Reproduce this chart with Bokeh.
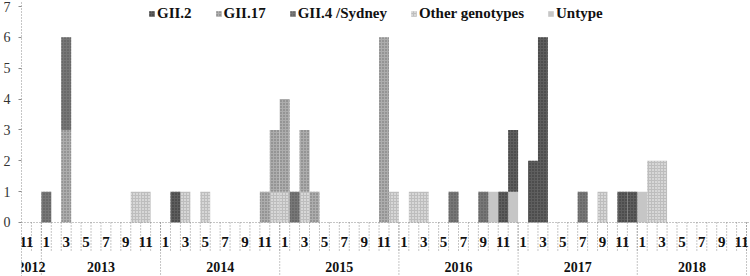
from bokeh.plotting import figure
from bokeh.models import Range1d, FixedTicker, Span, Legend, LegendItem, ColumnDataSource
from bokeh.core.properties import value
from bokeh.embed import file_html
from bokeh.resources import INLINE

# ---- data (slot 0 = Nov 2012 ... slot 72 = Nov 2018) ----
month_nums = [11, 12,
              1, 2, 3, 4, 5, 6, 7, 8, 9, 10, 11, 12,
              1, 2, 3, 4, 5, 6, 7, 8, 9, 10, 11, 12,
              1, 2, 3, 4, 5, 6, 7, 8, 9, 10, 11, 12,
              1, 2, 3, 4, 5, 6, 7, 8, 9, 10, 11, 12,
              1, 2, 3, 4, 5, 6, 7, 8, 9, 10, 11, 12,
              1, 2, 3, 4, 5, 6, 7, 8, 9, 10, 11]
year_labels = ["2012", "2013", "2014", "2015", "2016", "2017", "2018"]
year_counts = [2, 12, 12, 12, 12, 12, 11]

gii2 = [0, 0,
        0, 0, 0, 0, 0, 0, 0, 0, 0, 0, 0, 0,
        0, 1, 0, 0, 0, 0, 0, 0, 0, 0, 0, 0,
        0, 0, 0, 0, 0, 0, 0, 0, 0, 0, 0, 0,
        0, 0, 0, 0, 0, 0, 0, 0, 0, 0, 1, 2,
        0, 2, 6, 0, 0, 0, 0, 0, 0, 0, 1, 1,
        0, 0, 0, 0, 0, 0, 0, 0, 0, 0, 0]
gii17 = [0, 0,
         0, 0, 3, 0, 0, 0, 0, 0, 0, 0, 0, 0,
         0, 0, 0, 0, 0, 0, 0, 0, 0, 0, 1, 2,
         3, 0, 2, 1, 0, 0, 0, 0, 0, 0, 6, 0,
         0, 0, 0, 0, 0, 0, 0, 0, 0, 0, 0, 0,
         0, 0, 0, 0, 0, 0, 0, 0, 0, 0, 0, 0,
         0, 0, 0, 0, 0, 0, 0, 0, 0, 0, 0]
gii4 = [0, 0,
        1, 0, 3, 0, 0, 0, 0, 0, 0, 0, 0, 0,
        0, 0, 0, 0, 0, 0, 0, 0, 0, 0, 0, 0,
        0, 1, 0, 0, 0, 0, 0, 0, 0, 0, 0, 0,
        0, 0, 0, 0, 0, 1, 0, 0, 1, 0, 0, 0,
        0, 0, 0, 0, 0, 0, 1, 0, 0, 0, 0, 0,
        0, 0, 0, 0, 0, 0, 0, 0, 0, 0, 0]
other = [0, 0,
         0, 0, 0, 0, 0, 0, 0, 0, 0, 1, 1, 0,
         0, 0, 1, 0, 1, 0, 0, 0, 0, 0, 0, 1,
         1, 0, 1, 0, 0, 0, 0, 0, 0, 0, 0, 1,
         0, 1, 1, 0, 0, 0, 0, 0, 0, 0, 0, 0,
         0, 0, 0, 0, 0, 0, 0, 0, 1, 0, 0, 0,
         0, 2, 2, 0, 0, 0, 0, 0, 0, 0, 0]
untype = [0, 0,
          0, 0, 0, 0, 0, 0, 0, 0, 0, 0, 0, 0,
          0, 0, 0, 0, 0, 0, 0, 0, 0, 0, 0, 0,
          0, 0, 0, 0, 0, 0, 0, 0, 0, 0, 0, 0,
          0, 0, 0, 0, 0, 0, 0, 0, 0, 1, 0, 1,
          0, 0, 0, 0, 0, 0, 0, 0, 0, 0, 0, 0,
          1, 0, 0, 0, 0, 0, 0, 0, 0, 0, 0]
y_ticks = [0, 1, 2, 3, 4, 5, 6, 7]

# ---- layout constants ----
n = len(month_nums)
Y_TOP, Y_BOT = 7.194, -1.75
MONTH_Y, SEP_Y, YEAR_Y = -0.616, -0.972, -1.458
SERIF = "Liberation Serif"
GRID = "#8c8c8c"

src = ColumnDataSource(dict(x=[i + 0.5 for i in range(n)], gii2=gii2, gii17=gii17,
                            gii4=gii4, other=other, untype=untype))

p = figure(width=750, height=276, output_backend="svg", toolbar_location=None,
           x_range=Range1d(0, n + 0.4), y_range=Range1d(Y_BOT, Y_TOP),
           min_border_left=20, min_border_right=0, min_border_top=0, min_border_bottom=0)
p.xaxis.visible = False
p.grid.visible = False
p.outline_line_color = None

ya = p.yaxis[0]
ya.ticker = FixedTicker(ticks=y_ticks)
ya.major_tick_out = 3
ya.major_tick_in = 0
ya.minor_tick_out = 0
ya.minor_tick_in = 0
ya.major_tick_line_color = GRID
ya.axis_line_color = GRID
ya.axis_line_dash = "1 2"
ya.major_label_standoff = 8
ya.major_label_text_font = SERIF
ya.major_label_text_font_size = "14px"
ya.major_label_text_color = "#333333"

stack = ["untype", "other", "gii17", "gii4", "gii2"]
fills = ["#c6c6c6", "#bdbdbd", "#adadad", "#777777", "#5e5e5e"]
hatches = [" ", "dot", "dot", "dot", "dot"]
hcolors = ["#c6c6c6", "#ffffff", "#6c6c6c", "#555555", "#333333"]
rs = p.vbar_stack(stack, x="x", width=1.0, source=src, fill_color=fills, line_color=None,
                  hatch_pattern=hatches, hatch_color=hcolors, hatch_scale=3, hatch_weight=1)
r_un, r_ot, r_17, r_4, r_2 = rs

# baseline
p.add_layout(Span(location=0, dimension="width", line_color=GRID, line_dash="1 2", line_width=1))

# month separators
bx = list(range(1, n + 1))
p.segment(x0=bx, y0=[0] * len(bx), x1=bx, y1=[SEP_Y] * len(bx),
          line_color=GRID, line_dash="1 2", line_width=1)

# year separators + year labels
yb, yc, acc = [], [], 0
for c in year_counts:
    yc.append(acc + c / 2)
    acc += c
    yb.append(acc)
p.segment(x0=yb, y0=[0] * len(yb), x1=yb, y1=[Y_BOT] * len(yb),
          line_color=GRID, line_dash="1 2", line_width=1)
p.text(x=yc, y=[YEAR_Y] * len(yc), text=year_labels, text_align="center", text_baseline="middle",
       text_font=value(SERIF), text_font_style="bold", text_font_size="14px", text_color="#111111")

# month labels (odd months)
mx = [i + 0.5 for i, m in enumerate(month_nums) if m % 2 == 1]
mt = [str(m) for m in month_nums if m % 2 == 1]
p.text(x=mx, y=[MONTH_Y] * len(mx), text=mt, text_align="center", text_baseline="middle",
       text_font=value(SERIF), text_font_style="bold", text_font_size="15px", text_color="#111111")

legend = Legend(items=[LegendItem(label="GII.2", renderers=[r_2]),
                       LegendItem(label="GII.17", renderers=[r_17]),
                       LegendItem(label="GII.4 /Sydney", renderers=[r_4]),
                       LegendItem(label="Other genotypes", renderers=[r_ot]),
                       LegendItem(label="Untype", renderers=[r_un])],
                orientation="horizontal", location=(127, 254), margin=0, padding=0,
                spacing=23, glyph_width=7, glyph_height=7, label_standoff=2, label_height=14,
                border_line_color=None, background_fill_alpha=0,
                label_text_font=SERIF, label_text_font_style="bold", label_text_font_size="15px",
                label_text_color="#111111")
p.add_layout(legend)

open("out.html", "w").write(file_html(p, INLINE))
